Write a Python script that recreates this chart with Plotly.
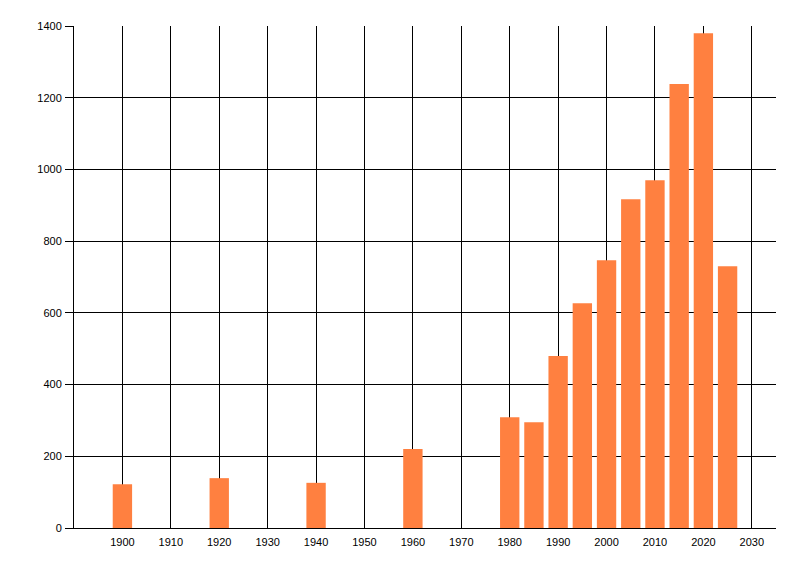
import plotly.graph_objects as go

years = [1900, 1920, 1940, 1960, 1980, 1985, 1990, 1995, 2000, 2005, 2010, 2015, 2020, 2025]
counts = [122, 139, 126, 220, 309, 295, 480, 627, 747, 917, 970, 1238, 1380, 730]

x_ticks = list(range(1900, 2031, 10))
y_ticks = list(range(0, 1401, 200))

fig = go.Figure()
fig.add_trace(go.Bar(x=years, y=counts, width=4, marker=dict(color="#FF8040", line=dict(width=0))))

# page body adds an 8px margin, so the margins are shifted by that
fig.update_layout(
    width=800, height=576,
    margin=dict(l=66, r=32, t=18, b=56),
    paper_bgcolor="white", plot_bgcolor="white",
    showlegend=False,
    font=dict(family="Liberation Sans", size=11, color="black"),
)
fig.update_xaxes(
    range=[1890, 2035], tickvals=x_ticks,
    showgrid=True, gridcolor="black", gridwidth=1,
    showline=True, linecolor="black", linewidth=1,
    ticks="", ticklabelstandoff=4,
    zeroline=False,
)
fig.update_yaxes(
    range=[0, 1400], tickvals=y_ticks,
    showgrid=True, gridcolor="black", gridwidth=1,
    showline=True, linecolor="black", linewidth=1,
    ticks="outside", ticklen=8, tickcolor="black",
    ticklabelstandoff=1,
    zeroline=False,
)

fig.write_html("out.html")
